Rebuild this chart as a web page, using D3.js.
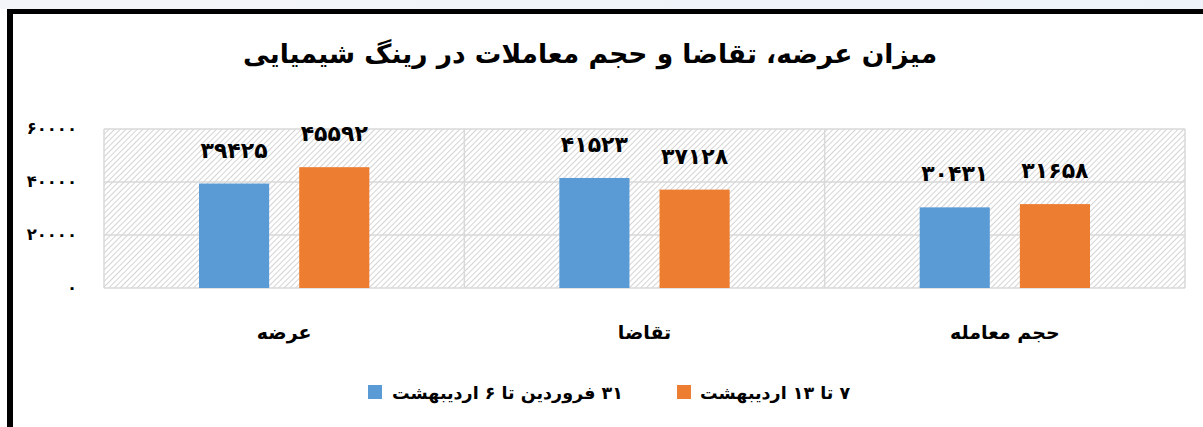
<!DOCTYPE html>
<html><head><meta charset="utf-8">
<script src="https://cdn.jsdelivr.net/npm/d3@7"></script>
<style>
html,body{margin:0;padding:0;background:#fff;}
svg{display:block;}
text{font-family:"DejaVu Sans",sans-serif;font-weight:bold;fill:#000;}
</style></head>
<body>
<svg id="c" width="1203" height="427"></svg>
<script>
const title = "میزان عرضه، تقاضا و حجم معاملات در رینگ شیمیایی";
const categories = ["عرضه", "تقاضا", "حجم معامله"];
const seriesNames = ["۳۱ فروردین تا ۶ اردیبهشت", "۷ تا ۱۳ اردیبهشت"];
const series1 = [39425, 41523, 30431];
const series2 = [45592, 37128, 31658];
const yTicks = [0, 20000, 40000, 60000];
const colors = ["#5b9bd5", "#ed7d31"];

const fa = n => String(n).replace(/[0-9]/g, d => "۰۱۲۳۴۵۶۷۸۹"[+d]);

const svg = d3.select("#c");
const defs = svg.append("defs");
const grad = defs.append("linearGradient").attr("id","tb").attr("x1","0").attr("x2","1");
grad.append("stop").attr("offset","0").attr("stop-color","#f3f5f8");
grad.append("stop").attr("offset","1").attr("stop-color","#eef3fa");
svg.append("rect").attr("x",0).attr("y",0).attr("width",1203).attr("height",9).attr("fill","url(#tb)");
svg.append("rect").attr("x",7).attr("y",9).attr("width",1196).attr("height",5).attr("fill","#000");
svg.append("rect").attr("x",7).attr("y",9).attr("width",6).attr("height",418).attr("fill","#000");

const pat = defs.append("pattern").attr("id","hatch").attr("patternUnits","userSpaceOnUse")
  .attr("width",4).attr("height",4).attr("patternTransform","rotate(-45)");
pat.append("rect").attr("width",4).attr("height",4).attr("fill","#fff");
pat.append("line").attr("x1",0).attr("y1",0).attr("x2",4).attr("y2",0).attr("stroke","#d4d4d4").attr("stroke-width",2);

const pLeft = 104, pRight = 1185, pTop = 129, pBottom = 288;
const x0 = d3.scaleBand().domain(categories).range([pLeft, pRight]).paddingInner(0).paddingOuter(0);
const x1 = d3.scaleBand().domain([0,1]).range([95, x0.bandwidth()-95]).paddingInner(0.3);
const y = d3.scaleLinear().domain([0, 60000]).range([pBottom, pTop]);

svg.append("rect").attr("x",pLeft).attr("y",pTop).attr("width",pRight-pLeft).attr("height",pBottom-pTop)
  .attr("fill","url(#hatch)");

svg.append("g").selectAll("line").data(yTicks).join("line")
  .attr("x1",pLeft).attr("x2",pRight).attr("y1",d=>y(d)).attr("y2",d=>y(d))
  .attr("stroke","#d9d9d9").attr("stroke-width",1.5);
svg.append("g").selectAll("line").data(d3.range(categories.length+1)).join("line")
  .attr("x1",i=>pLeft+i*x0.bandwidth()).attr("x2",i=>pLeft+i*x0.bandwidth())
  .attr("y1",pTop).attr("y2",pBottom).attr("stroke","#d9d9d9").attr("stroke-width",1.5);

const yAxis = d3.axisLeft(y).tickValues(yTicks).tickFormat(fa).tickSize(0).tickPadding(0);
const ya = svg.append("g").attr("transform","translate(77,0)").call(yAxis);
ya.select(".domain").remove();
ya.selectAll("text").attr("font-size",16.5).attr("dy","0.3em").style("font-family","DejaVu Sans").style("font-weight","bold").attr("fill","#000");

const data = [series1, series2];
data.forEach((s, si) => {
  const g = svg.append("g");
  g.selectAll("rect").data(s).join("rect")
    .attr("x",(d,i)=>x0(categories[i])+x1(si))
    .attr("width",x1.bandwidth())
    .attr("y",d=>y(d)).attr("height",d=>pBottom-y(d))
    .attr("fill",colors[si]);
  g.selectAll("text").data(s).join("text")
    .attr("x",(d,i)=>x0(categories[i])+x1(si)+x1.bandwidth()/2)
    .attr("y",d=>y(d)-26)
    .attr("text-anchor","middle").attr("font-size",22)
    .text(fa);
});

svg.append("g").selectAll("text").data(categories).join("text")
  .attr("x",d=>x0(d)+x0.bandwidth()/2).attr("y",339)
  .attr("text-anchor","middle").attr("font-size",19).attr("direction","rtl")
  .text(d=>d);

svg.append("text").attr("x",590).attr("y",63).attr("text-anchor","middle")
  .attr("font-size",26.5).attr("direction","rtl").text(title);

const leg = [{sx:368, tx:392}, {sx:677, tx:700}];
leg.forEach((l,i)=>{
  svg.append("rect").attr("x",l.sx).attr("y",385).attr("width",14).attr("height",14).attr("fill",colors[i]);
  svg.append("text").attr("x",l.tx).attr("y",399).attr("font-size",17.5)
    .attr("text-anchor","end").attr("direction","rtl").text(seriesNames[i]);
});
</script>
</body></html>
